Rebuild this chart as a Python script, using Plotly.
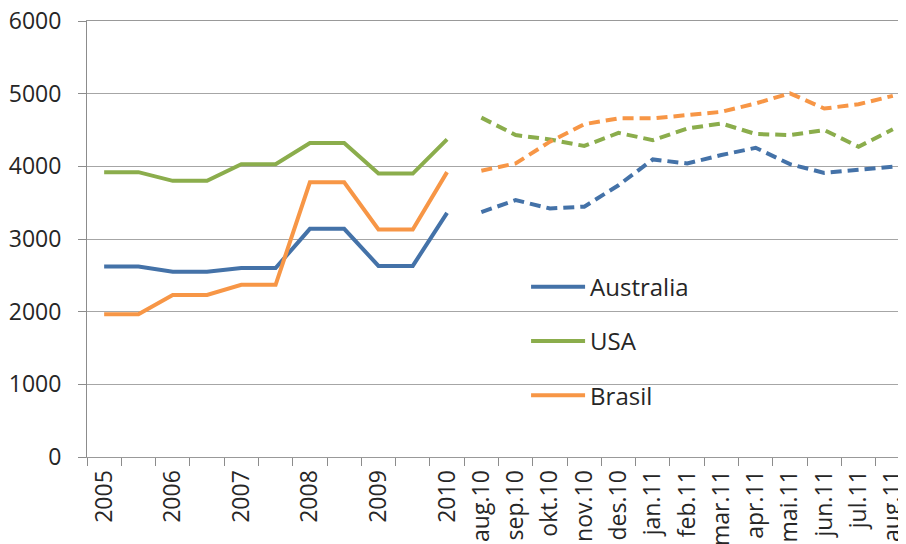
import plotly.graph_objects as go

# x categories (blank labels between the yearly points)
categories = ["2005", "", "2006", "", "2007", "", "2008", "", "2009", "", "2010",
              "aug.10", "sep.10", "okt.10", "nov.10", "des.10", "jan.11", "feb.11",
              "mar.11", "apr.11", "mai.11", "jun.11", "jul.11", "aug.11"]

# yearly values (solid lines)
aus_year = [2620, 2620, 2550, 2550, 2600, 2600, 3140, 3140, 2630, 2630, 3360]
usa_year = [3920, 3920, 3800, 3800, 4030, 4030, 4320, 4320, 3900, 3900, 4370]
bra_year = [1965, 1965, 2230, 2230, 2370, 2370, 3780, 3780, 3130, 3130, 3920]

# monthly values aug.10 - aug.11 (dashed lines)
aus_month = [3370, 3535, 3420, 3445, 3740, 4095, 4040, 4155, 4255, 4030, 3910, 3950, 3995]
usa_month = [4670, 4430, 4370, 4280, 4460, 4360, 4520, 4590, 4445, 4430, 4500, 4270, 4510]
bra_month = [3940, 4040, 4340, 4580, 4660, 4660, 4705, 4750, 4865, 5005, 4795, 4855, 4970]

names = ["Australia", "USA", "Brasil"]
colors = ["#4472A8", "#8BAD4C", "#F79646"]

n_year = len(aus_year)
x_year = list(range(n_year))
x_month = list(range(n_year, n_year + len(aus_month)))

fig = go.Figure()

for name, col, yy, mm in zip(names, colors,
                             [aus_year, usa_year, bra_year],
                             [aus_month, usa_month, bra_month]):
    fig.add_trace(go.Scatter(x=x_year, y=yy, mode="lines", name=name, legendgroup=name,
                             line=dict(color=col, width=4)))
    fig.add_trace(go.Scatter(x=x_month, y=mm, mode="lines", name=name, legendgroup=name,
                             showlegend=False, line=dict(color=col, width=4, dash="11px,6px")))

# page body has an 8px margin, so the margins are shifted to compensate
fig.update_layout(
    width=906, height=544,
    margin=dict(l=79, r=4, t=13, b=95),
    paper_bgcolor="white", plot_bgcolor="white",
    font=dict(family="Open Sans", size=23, color="#262626"),
    legend=dict(x=0.5335, y=0.441, xanchor="left", yanchor="top",
                bgcolor="rgba(0,0,0,0)", tracegroupgap=20, itemwidth=54,
                font=dict(size=24)),
)

# mirror line stands in for the 6000 gridline at the top edge
fig.update_xaxes(
    range=[-0.5, 23.5], automargin=False, ticklabeloverflow="allow",
    tickmode="array", tickvals=list(range(len(categories))), ticktext=categories,
    tickangle=-90, ticks="", showgrid=False, zeroline=False, ticklabelstandoff=3,
    showline=True, mirror=True, linecolor="#999999", linewidth=1,
    minor=dict(tickmode="array",
               tickvals=[i - 0.5 for i in range(len(categories) + 1)],
               ticks="outside", ticklen=8, tickcolor="#8c8c8c", showgrid=False),
)

fig.update_yaxes(
    range=[0, 6000], dtick=1000, automargin=False, ticklabeloverflow="allow",
    showgrid=True, gridcolor="#a6a6a6", gridwidth=1, zeroline=False,
    showline=True, linecolor="#8c8c8c", linewidth=1,
    ticks="outside", ticklen=8, tickcolor="#8c8c8c", ticklabelstandoff=12,
)

fig.write_html("out.html")
